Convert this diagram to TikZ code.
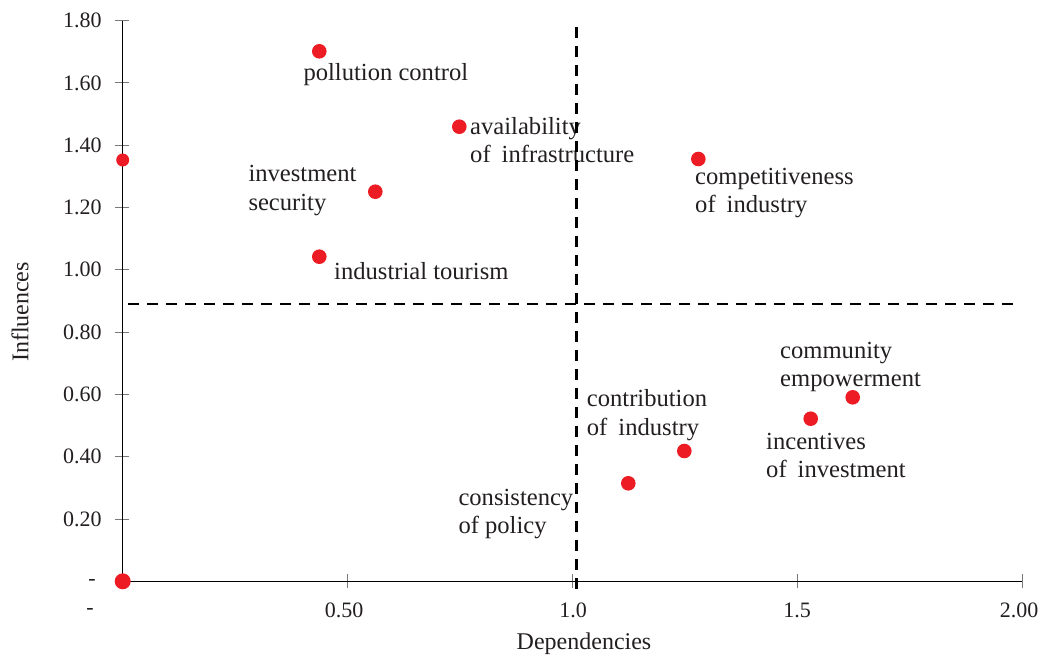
\documentclass[tikz,border=0pt]{standalone}
\usepackage{fontspec}
\setmainfont{Liberation Serif}
\definecolor{ink}{RGB}{35,31,32}
\definecolor{dotred}{RGB}{237,28,36}
\definecolor{tickgray}{RGB}{120,120,120}
\newcommand\gapsp{\hspace{0.45em}}
\newcommand\twoline[2]{\begin{tabular}[t]{@{}l@{}}#1\\#2\end{tabular}}
\begin{document}
\begin{tikzpicture}[x=1pt,y=-1pt,
  dot/.style={circle,fill=dotred,inner sep=0pt,minimum size=14.6pt},
  lbl/.style={anchor=base west,inner sep=0pt,text=ink,font=\fontsize{24.6}{28.4}\selectfont},
  ticklbl/.style={text=ink,inner sep=0pt,font=\fontsize{22}{26}\selectfont},
  axtitle/.style={text=ink,inner sep=0pt,font=\fontsize{24}{28}\selectfont},
  axisline/.style={black,line width=1.3pt},
  tk/.style={tickgray,line width=1pt},
  quad/.style={black,line width=2.8pt,dash pattern=on 11pt off 8pt}]
\useasboundingbox (0,0) rectangle (1049,659);
% axes
\coordinate (O) at (122.7,581.3);
\coordinate (ytop) at (122.7,20.6);
\coordinate (xend) at (1022,581.3);
% y ticks and labels
\foreach \k/\v in {1/0.20,2/0.40,3/0.60,4/0.80,5/1.00,6/1.20,7/1.40,8/1.60,9/1.80}{
  \draw[tk] (115,581.3-\k*62.3) -- (129,581.3-\k*62.3);
  \node[ticklbl,anchor=east] (yl\k) at (101.7,581.3-\k*62.3) {\v};
}
\node[ticklbl] (yl0) at (92,582.5) {-};
% x ticks and labels
\foreach \xx in {347,572,797,1022}{
  \draw[tk] (\xx,574) -- (\xx,588);
}
\node[ticklbl] (xl0) at (90,611) {-};
\node[ticklbl] (xla) at (344,610) {0.50};
\node[ticklbl] (xlb) at (573,610) {1.0};
\node[ticklbl] (xlc) at (797,610) {1.5};
\node[ticklbl] (xld) at (1019,610) {2.00};
\draw[axisline] (ytop) -- (O) -- (xend);
% axis titles
\node[axtitle,rotate=90] (ytitle) at (20,312) {Influences};
\node[axtitle] (xtitle) at (584,644) {Dependencies};
% quadrant lines
\coordinate (vtop) at (576.3,27);
\coordinate (vbot) at (576.3,591);
\coordinate (hl) at (128,304);
\coordinate (hr) at (1015,304);
% labels
\node[lbl] (lpc) at (303.3,80) {pollution control};
\node[lbl] (lai) at (470,134.3) {\twoline{availability}{of\gapsp infrastructure}};
\node[lbl] (lis) at (248.3,181.7) {\twoline{investment}{security}};
\node[lbl] (lit) at (334,279) {industrial tourism};
\node[lbl] (lci) at (695,184) {\twoline{competitiveness}{of\gapsp industry}};
\node[lbl] (lce) at (780,358.3) {\twoline{community}{empowerment}};
\node[lbl] (lco) at (586.7,406.7) {\twoline{contribution}{of\gapsp industry}};
\node[lbl] (lii) at (766,449.3) {\twoline{incentives}{of\gapsp investment}};
\node[lbl] (lcp) at (458.3,505.5) {\twoline{consistency}{of policy}};
\draw[quad] (vtop) -- (vbot);
\draw[quad] (hl) -- (hr);
% dots
\node[dot] (pc) at (319.3,51.3) {};
\node[dot] (ai) at (459.3,126.7) {};
\node[dot] (is) at (375.3,191.7) {};
\node[dot] (it) at (319.3,256.7) {};
\node[dot] (ci) at (698.3,159) {};
\node[dot] (ce) at (852.7,397.3) {};
\node[dot] (co) at (684.3,451) {};
\node[dot] (ii) at (810.7,418.7) {};
\node[dot] (cp) at (628.3,483.3) {};
\node[dot,minimum size=13pt] (ya) at (122.7,160) {};
\node[dot,minimum size=16pt] (og) at (122.7,581.3) {};
\end{tikzpicture}
\end{document}
